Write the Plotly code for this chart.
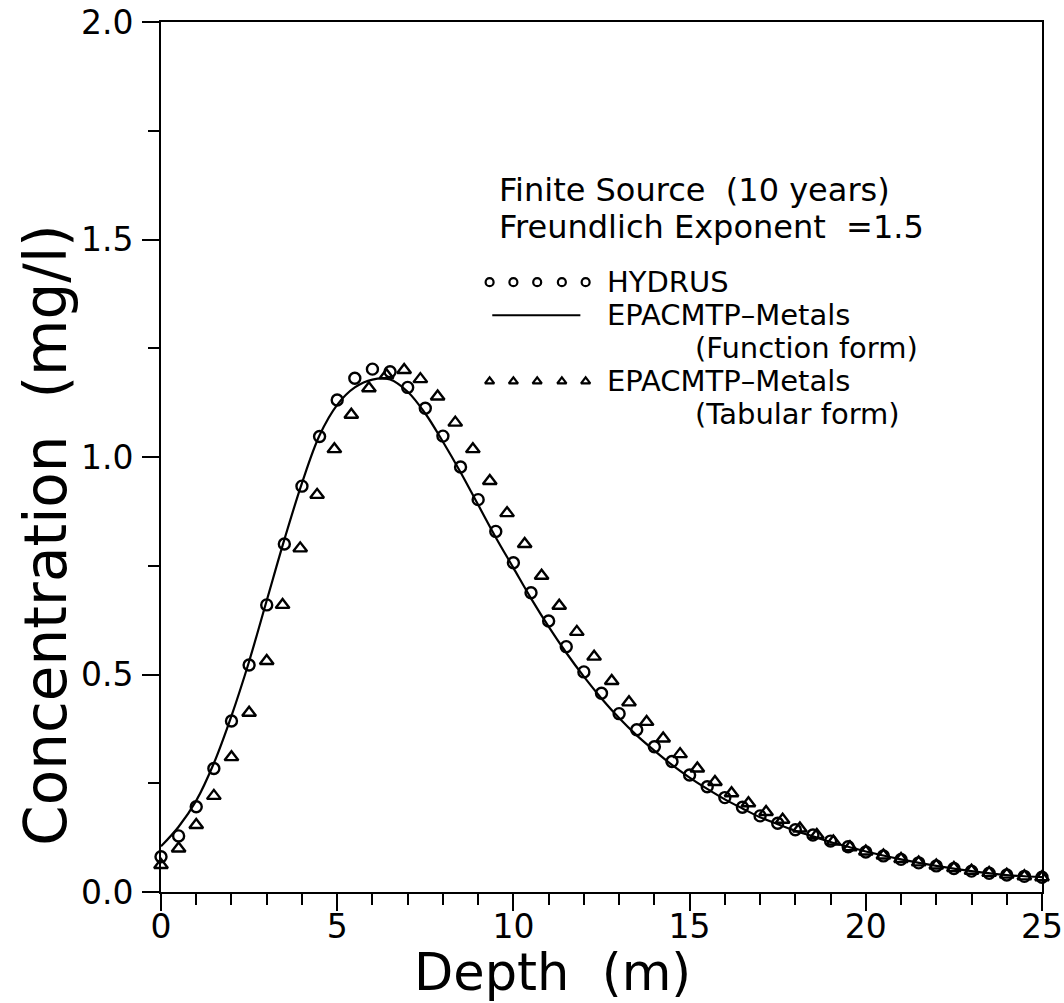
import plotly.graph_objects as go

# HYDRUS simulation (open circles)
hydrus_depth = [0.0, 0.5, 1.0, 1.5, 2.0, 2.5, 3.0, 3.5, 4.0, 4.5, 5.0, 5.5, 6.0, 6.5, 7.0,
                7.5, 8.0, 8.5, 9.0, 9.5, 10.0, 10.5, 11.0, 11.5, 12.0, 12.5, 13.0, 13.5,
                14.0, 14.5, 15.0, 15.5, 16.0, 16.5, 17.0, 17.5, 18.0, 18.5, 19.0, 19.5,
                20.0, 20.5, 21.0, 21.5, 22.0, 22.5, 23.0, 23.5, 24.0, 24.5, 25.0]
hydrus_conc = [0.081, 0.129, 0.196, 0.284, 0.393, 0.522, 0.660, 0.800, 0.933, 1.047, 1.131,
               1.181, 1.202, 1.196, 1.160, 1.112, 1.048, 0.977, 0.902, 0.829, 0.757, 0.688,
               0.623, 0.564, 0.506, 0.457, 0.410, 0.373, 0.334, 0.300, 0.269, 0.242, 0.217,
               0.195, 0.175, 0.158, 0.143, 0.131, 0.117, 0.104, 0.092, 0.083, 0.075, 0.067,
               0.060, 0.054, 0.048, 0.043, 0.039, 0.036, 0.034]

# EPACMTP-Metals, function form (solid line)
func_depth = [0.0, 0.5, 1.0, 1.5, 2.0, 2.5, 3.0, 3.5, 4.0, 4.5, 5.0, 5.5, 6.0, 6.5, 7.0, 7.5,
              8.0, 8.5, 9.0, 9.5, 10.0, 10.5, 11.0, 11.5, 12.0, 12.5, 13.0, 13.5, 14.0, 14.5,
              15.0, 15.5, 16.0, 16.5, 17.0, 17.5, 18.0, 18.5, 19.0, 19.5, 20.0, 21.0, 22.0,
              23.0, 24.0, 25.0]
func_conc = [0.105, 0.150, 0.210, 0.296, 0.405, 0.530, 0.670, 0.810, 0.940, 1.050, 1.120,
             1.160, 1.178, 1.178, 1.150, 1.100, 1.035, 0.965, 0.890, 0.815, 0.745, 0.675,
             0.610, 0.550, 0.495, 0.445, 0.400, 0.360, 0.325, 0.292, 0.263, 0.237, 0.213,
             0.192, 0.172, 0.156, 0.141, 0.128, 0.115, 0.104, 0.093, 0.075, 0.060, 0.048,
             0.039, 0.034]

# EPACMTP-Metals, tabular form (open triangles)
tab_depth = [0.0, 0.5, 1.0, 1.5, 2.0, 2.5, 3.0, 3.45, 3.95, 4.43, 4.92, 5.4, 5.9, 6.4, 6.9,
             7.36, 7.85, 8.35, 8.85, 9.33, 9.82, 10.32, 10.8, 11.3, 11.8, 12.29, 12.79,
             13.28, 13.78, 14.25, 14.73, 15.22, 15.72, 16.19, 16.67, 17.17, 17.64, 18.13,
             18.61, 19.08, 19.55, 20.0, 20.5, 21.0, 21.5, 22.0, 22.5, 23.0, 23.5, 24.0,
             24.5, 25.0]
tab_conc = [0.062, 0.100, 0.154, 0.221, 0.310, 0.412, 0.531, 0.660, 0.790, 0.913, 1.018,
            1.097, 1.158, 1.188, 1.200, 1.179, 1.139, 1.079, 1.018, 0.945, 0.871, 0.800,
            0.727, 0.658, 0.598, 0.541, 0.485, 0.436, 0.391, 0.353, 0.317, 0.284, 0.253,
            0.227, 0.204, 0.184, 0.166, 0.146, 0.131, 0.116, 0.103, 0.093, 0.084, 0.076,
            0.068, 0.061, 0.055, 0.049, 0.044, 0.040, 0.036, 0.034]

x_ticks = [0, 5, 10, 15, 20, 25]
y_ticks = [0.0, 0.5, 1.0, 1.5, 2.0]
y_tick_text = ["0.0", "0.5", "1.0", "1.5", "2.0"]

FONT = "DejaVu Sans"
INK = "black"

fig = go.Figure()

fig.add_trace(go.Scatter(
    x=func_depth, y=func_conc, mode="lines", line=dict(color=INK, width=2.2, shape="spline"),
    cliponaxis=False, showlegend=False))
fig.add_trace(go.Scatter(
    x=hydrus_depth, y=hydrus_conc, mode="markers",
    marker=dict(symbol="circle-open", size=11, color=INK, line=dict(width=2.4, color=INK)),
    cliponaxis=False, showlegend=False))
fig.add_trace(go.Scatter(
    x=tab_depth, y=tab_conc, mode="markers",
    marker=dict(symbol="triangle-up-open", size=12, color=INK, line=dict(width=2.4, color=INK)),
    cliponaxis=False, showlegend=False))

# Legend key drawn on a hidden overlay axis spanning the plot area (0..1)
key_x = [0.373, 0.400, 0.427, 0.455, 0.482]
fig.add_trace(go.Scatter(
    x=key_x, y=[0.701] * 5, xaxis="x2", yaxis="y2", mode="markers",
    marker=dict(symbol="circle-open", size=8, color=INK, line=dict(width=2.2, color=INK)),
    showlegend=False))
fig.add_trace(go.Scatter(
    x=[0.376, 0.476], y=[0.663, 0.663], xaxis="x2", yaxis="y2", mode="lines",
    line=dict(color=INK, width=2), showlegend=False))
fig.add_trace(go.Scatter(
    x=key_x, y=[0.587] * 5, xaxis="x2", yaxis="y2", mode="markers",
    marker=dict(symbol="triangle-up-open", size=8, color=INK, line=dict(width=2.2, color=INK)),
    showlegend=False))

axis_common = dict(
    showgrid=False, zeroline=False, showline=True, linecolor=INK, linewidth=2,
    mirror=True, ticks="outside", ticklen=17, tickwidth=2, tickcolor=INK,
    tickfont=dict(family=FONT, size=33, color=INK), automargin=False,
)

fig.update_layout(
    width=1064, height=1003,
    margin=dict(l=161, r=22, t=22, b=111),
    paper_bgcolor="white", plot_bgcolor="white",
    xaxis=dict(range=[0, 25], tickvals=x_ticks, ticklabelstandoff=-13,
               minor=dict(dtick=1, ticklen=11, tickwidth=2, tickcolor=INK, ticks="outside"),
               **axis_common),
    yaxis=dict(range=[0, 2.0], tickvals=y_ticks, ticktext=y_tick_text, ticklabelstandoff=2,
               minor=dict(dtick=0.25, ticklen=11, tickwidth=2, tickcolor=INK, ticks="outside"),
               **axis_common),
    xaxis2=dict(overlaying="x", range=[0, 1], visible=False),
    yaxis2=dict(overlaying="y", range=[0, 1], visible=False),
)

def note(text, x, y, size=29, anchor="left", angle=0):
    fig.add_annotation(text=text, x=x, y=y, xref="paper", yref="paper",
                       xanchor=anchor, yanchor="middle", showarrow=False, textangle=angle,
                       font=dict(family=FONT, size=size, color=INK))

# Axis titles
note("Depth  (m)", 0.444, -0.093, size=51, anchor="center")
note("Concentration  (mg/l)", -0.13, 0.41, size=58, anchor="center", angle=-90)

# Case description and legend labels
note("Finite Source  (10 years)", 0.381, 0.807, size=32)
note("Freundlich Exponent  =1.5", 0.381, 0.764, size=32)
note("HYDRUS", 0.504, 0.701)
note("EPACMTP\u2013Metals", 0.504, 0.663)
note("(Function form)", 0.604, 0.625)
note("EPACMTP\u2013Metals", 0.504, 0.587)
note("(Tabular form)", 0.604, 0.549)

fig.write_html("out.html")
